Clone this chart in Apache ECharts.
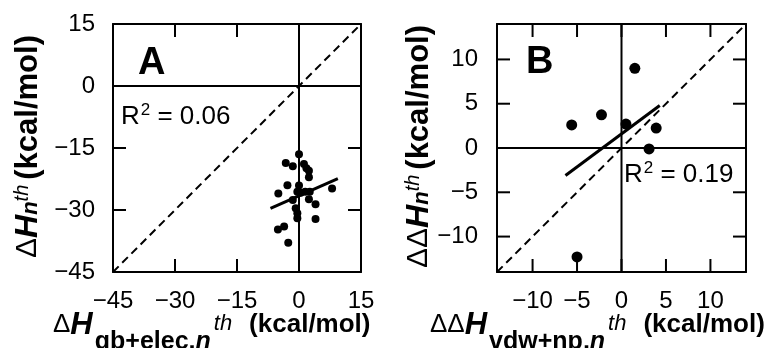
<!DOCTYPE html>
<html><head><meta charset="utf-8">
<script src="https://cdn.jsdelivr.net/npm/echarts@6/dist/echarts.min.js"></script>
<style>html,body{margin:0;padding:0;background:#fff}#c{width:766px;height:348px;background:#fff}</style>
</head><body><div id="c"></div>
<script>
// Panel A data
const aX = [0, -3.2, -1.5, 1.2, 1.8, 2.4, 2.4, -2.8, 0, -5.0, -0.4, 0.4, 1.5, 2.6, 8.0, -1.5, 2.4, 4.0, -0.8, -0.4, -0.4, 4.0, -3.6, -5.1, -2.6];
const aY = [-16.5, -18.6, -19.4, -18.9, -19.9, -20.5, -22.1, -24.0, -24.1, -26.0, -25.6, -25.8, -25.6, -25.6, -24.8, -27.6, -27.4, -28.6, -29.6, -30.8, -32.0, -32.2, -34.0, -34.7, -37.9];
const aFitX = [-6.9, 9.4];
const aFitY = [-29.6, -22.4];
const aRange = [-45, 15];
const aTicks = [-45, -30, -15, 0, 15];
const aR2 = '0.06';
// Panel B data
const bX = [1.5, -5.6, -2.25, 0.5, 3.9, 3.1, -5.0];
const bY = [9.0, 2.6, 3.75, 2.7, 2.25, -0.1, -12.3];
const bFitX = [-6.3, 4.3];
const bFitY = [-3.1, 4.8];
const bRange = [-14, 14];
const bTicks = [-10, -5, 0, 5, 10];
const bR2 = '0.19';
const zeroPair = [0, 0];

const FONT = '"Liberation Sans", Arial, sans-serif';
const TICK_LEN = 13;
const fmt = v => v < 0 ? '\u2212' + Math.abs(v) : String(v);
const zip = (xs, ys) => xs.map((x, i) => [x, ys[i]]);

function mkAxis(gi, range, ticks, pos, showLabel, margin) {
  return {
    type: 'value', gridIndex: gi, position: pos, min: range[0], max: range[1],
    axisLine: { show: true, onZero: false, lineStyle: { color: '#000', width: 2 } },
    axisTick: { show: false, customValues: ticks },
    axisLabel: { show: showLabel, customValues: ticks, formatter: fmt, fontSize: 24, color: '#000', fontFamily: FONT, margin: margin },
    splitLine: { show: false }
  };
}

function seg(xi, yi, data, style) {
  return { type: 'line', xAxisIndex: xi, yAxisIndex: yi, data: data, symbol: 'none', lineStyle: style };
}

function panelSeries(xi, yi, xs, ys, fx, fy, range, size) {
  return [
    seg(xi, yi, zip(zeroPair, range), { color: '#000', width: 2 }),
    seg(xi, yi, zip(range, zeroPair), { color: '#000', width: 2 }),
    seg(xi, yi, zip(range, range), { color: '#000', width: 2, type: [8, 5] }),
    seg(xi, yi, zip(fx, fy), { color: '#000', width: 3 }),
    { type: 'scatter', xAxisIndex: xi, yAxisIndex: yi, data: zip(xs, ys), symbolSize: size,
      itemStyle: { color: '#000', opacity: 1 } }
  ];
}

const R = o => Object.assign({ fill: '#000', fontFamily: FONT }, o);
const xRich = {
  d: R({ fontSize: 26, lineHeight: 30 }),
  h: R({ fontSize: 31, fontWeight: 'bold', fontStyle: 'italic', lineHeight: 30 }),
  s: R({ fontSize: 25, fontWeight: 'bold', lineHeight: 25, padding: [34, 0, 0, 2] }),
  si: R({ fontSize: 25, fontWeight: 'bold', fontStyle: 'italic', lineHeight: 25, padding: [34, 0, 0, 0] }),
  t: R({ fontSize: 22, fontStyle: 'italic', lineHeight: 22, padding: [0, 0, 2, 3] }),
  m: R({ fontSize: 26, fontWeight: 'bold', lineHeight: 30, padding: [0, 0, 0, 17] })
};
const yRich = {
  d: R({ fontSize: 30, lineHeight: 34 }),
  h: R({ fontSize: 32, fontWeight: 'bold', fontStyle: 'italic', lineHeight: 34 }),
  n: R({ fontSize: 22, fontWeight: 'bold', fontStyle: 'italic', lineHeight: 22, padding: [6, 0, 0, 0] }),
  t: R({ fontSize: 20, fontStyle: 'italic', lineHeight: 20, padding: [0, 0, 12, 0] }),
  m: R({ fontSize: 31, fontWeight: 'bold', lineHeight: 34, padding: [0, 0, 0, 5] })
};
const r2Rich = {
  r: R({ fontSize: 26, lineHeight: 30 }),
  s: R({ fontSize: 17, lineHeight: 17, padding: [0, 0, 14, 1] })
};
const bigRich = { b: R({ fontSize: 38, fontWeight: 'bold', lineHeight: 40 }) };

function txt(x, y, text, rich, rot) {
  return { type: 'text', x: x, y: y, rotation: rot || 0,
    style: { text: text, fill: '#000', fontSize: 25, fontFamily: FONT, align: 'left', verticalAlign: 'middle', rich: rich } };
}

const texts = [
  txt(138, 64, '{b|A}', bigRich),
  txt(526, 63, '{b|B}', bigRich),
  txt(121, 117, '{r|R}{s|2}{r| = ' + aR2 + '}', r2Rich),
  txt(624, 175, '{r|R}{s|2}{r| = ' + bR2 + '}', r2Rich),
  txt(53, 325, '{d|\u0394}{h|H}{s|gb+elec,}{si|n}{t|th}{m|(kcal/mol)}', xRich),
  txt(430, 325, '{d|\u0394\u0394}{h|H}{s|vdw+np,}{si|n}{t|th}{m|(kcal/mol)}', xRich),
  txt(28, 258, '{d|\u0394}{h|H}{n|n}{t|th}{m|(kcal/mol)}', yRich, Math.PI / 2),
  txt(419, 268, '{d|\u0394\u0394}{h|H}{n|n}{t|th}{m|(kcal/mol)}', yRich, Math.PI / 2)
];

const chart = echarts.init(document.getElementById('c'));
chart.setOption({
  animation: false,
  grid: [
    { left: 113, top: 24, width: 248, height: 248 },
    { left: 497, top: 24, width: 249, height: 248 }
  ],
  xAxis: [
    mkAxis(0, aRange, aTicks, 'bottom', true, 17),
    mkAxis(0, aRange, aTicks, 'top', false, 8),
    mkAxis(1, bRange, bTicks, 'bottom', true, 17),
    mkAxis(1, bRange, bTicks, 'top', false, 8)
  ],
  yAxis: [
    mkAxis(0, aRange, aTicks, 'left', true, 18),
    mkAxis(0, aRange, aTicks, 'right', false, 8),
    mkAxis(1, bRange, bTicks, 'left', true, 19),
    mkAxis(1, bRange, bTicks, 'right', false, 8)
  ],
  series: [].concat(
    panelSeries(0, 0, aX, aY, aFitX, aFitY, aRange, 8),
    panelSeries(2, 2, bX, bY, bFitX, bFitY, bRange, 11)
  ),
  graphic: texts
});

// Inward tick marks on all four sides, positioned through each grid's own axis scales.
function tickMarks(gridIndex, ticks, range) {
  const out = [];
  const st = { stroke: '#000', lineWidth: 2 };
  const px = p => chart.convertToPixel({ gridIndex: gridIndex }, p);
  ticks.forEach(v => {
    const b = px([v, range[0]]), t = px([v, range[1]]);
    const l = px([range[0], v]), r = px([range[1], v]);
    out.push(
      { type: 'line', z: 10, shape: { x1: b[0], y1: b[1], x2: b[0], y2: b[1] - TICK_LEN }, style: st },
      { type: 'line', z: 10, shape: { x1: t[0], y1: t[1], x2: t[0], y2: t[1] + TICK_LEN }, style: st },
      { type: 'line', z: 10, shape: { x1: l[0], y1: l[1], x2: l[0] + TICK_LEN, y2: l[1] }, style: st },
      { type: 'line', z: 10, shape: { x1: r[0], y1: r[1], x2: r[0] - TICK_LEN, y2: r[1] }, style: st }
    );
  });
  return out;
}
chart.setOption({
  graphic: texts.concat(tickMarks(0, aTicks, aRange), tickMarks(1, bTicks, bRange))
}, { replaceMerge: ['graphic'] });
</script></body></html>
